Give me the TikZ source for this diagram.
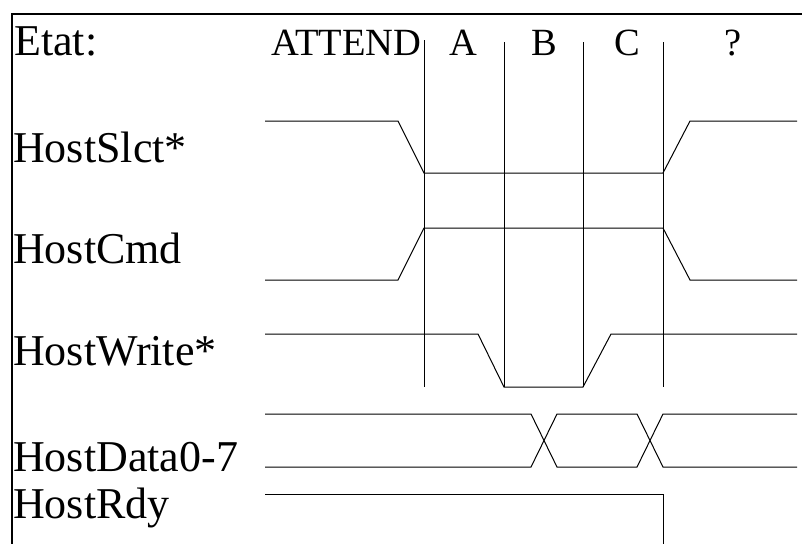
\documentclass[tikz,border=0pt]{standalone}
\usepackage{fontspec}
\setmainfont{Liberation Serif}
\begin{document}
\begin{tikzpicture}[x=1pt,y=-1pt,
  sig/.style={line width=1pt,line join=miter},
  grid/.style={line width=1pt},
  frame/.style={line width=2pt},
  siglabel/.style={anchor=base west,inner sep=0pt,font=\fontsize{44}{44}\selectfont},
  statelabel/.style={anchor=base,inner sep=0pt,font=\fontsize{38.5}{38.5}\selectfont}]
\useasboundingbox (0,0) rectangle (802,544);

% outer frame (top and left edges)
\draw[frame] (802,14) -- (12.3,14) -- (12.3,544);

% signal names
\node[siglabel] (etat)  at (14,55)  {Etat:};
\node[siglabel] (slct)  at (13,162) {HostSlct*};
\node[siglabel] (cmd)   at (13,263) {HostCmd};
\node[siglabel] (write) at (13,365) {HostWrite*};
\node[siglabel] (data)  at (13,471) {HostData0-7};
\node[siglabel] (rdy)   at (13,518) {HostRdy};

% state names
\node[statelabel] (attend) at (346.5,55) {ATTEND};
\node[statelabel] (sa) at (463,55) {A};
\node[statelabel] (sb) at (544,55) {B};
\node[statelabel] (sc) at (627,55) {C};
\node[statelabel] (sq) at (733,55) {?};

% state boundaries
\draw[grid] (424,40) -- (424,387);
\draw[grid] (504,42) -- (504,387);
\draw[grid] (583,42) -- (583,387);
\draw[grid] (663,42) -- (663,387);

% HostSlct*
\draw[sig] (265,121) -- (398,121) -- (424,173) -- (663,173) -- (690,121) -- (797,121);
% HostCmd
\draw[sig] (265,280) -- (398,280) -- (424,228) -- (663,228) -- (690,280) -- (797,280);
% HostWrite*
\draw[sig] (265,334) -- (478,334) -- (504,387) -- (583,387) -- (611,334) -- (797,334);
% HostData0-7
\draw[sig] (265,414) -- (531,414) -- (557,467) -- (637,467) -- (663,414) -- (797,414);
\draw[sig] (265,467) -- (531,467) -- (557,414) -- (637,414) -- (663,467) -- (797,467);
% HostRdy
\draw[sig] (265,494) -- (663,494) -- (663,544);
\end{tikzpicture}
\end{document}
